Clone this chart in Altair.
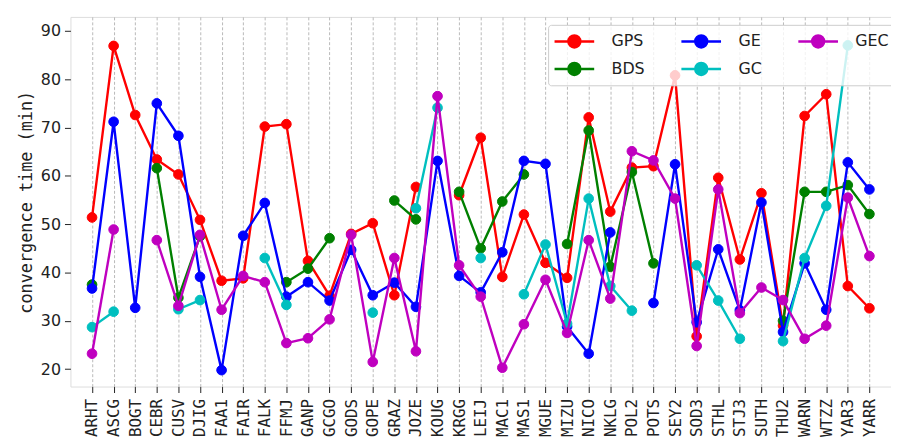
import altair as alt
import pandas as pd

stations = ["ARHT", "ASCG", "BOGT", "CEBR", "CUSV", "DJIG", "FAA1", "FAIR", "FALK",
            "FFMJ", "GANP", "GCGO", "GODS", "GOPE", "GRAZ", "JOZE", "KOUG", "KRGG",
            "LEIJ", "MAC1", "MAS1", "MGUE", "MIZU", "NICO", "NKLG", "POL2", "POTS",
            "SEY2", "SOD3", "STHL", "STJ3", "SUTH", "THU2", "WARN", "WTZZ", "YAR3", "YARR"]

gps = [51.4, 86.9, 72.6, 63.4, 60.3, 50.9, 38.3, 38.8, 70.2,
       70.7, 42.4, 35.2, 48.0, 50.2, 35.3, 57.7, None, 56.0,
       67.9, 39.1, 52.0, 42.0, 38.9, 72.1, 52.6, 61.7, 62.0,
       80.8, 26.8, 59.6, 42.7, 56.4, 29.0, 72.4, 76.9, 37.2, 32.6]

bds = [37.5, None, None, 61.6, 34.8, 47.5, None, None, None,
       38.0, 40.8, 47.1, None, None, 54.9, 51.0, None, 56.7,
       45.0, 54.7, 60.3, None, 45.9, 69.4, 41.2, 60.8, 41.9,
       None, None, None, None, None, 30.0, 56.7, 56.7, 58.1, 52.1]

ge = [36.7, 71.2, 32.7, 75.0, 68.3, 39.1, 19.8, 47.6, 54.4,
      35.0, 38.0, 34.2, 44.7, 35.3, 37.9, 32.9, 63.1, 39.3,
      35.9, 44.2, 63.1, 62.5, 28.8, 23.2, 48.3, None, 33.7,
      62.4, 29.7, 44.8, 32.2, 54.5, 27.7, 41.9, 32.3, 62.8, 57.2]

gc = [28.7, 31.9, None, None, 32.4, 34.3, None, None, 43.0,
      33.3, None, None, None, 31.7, None, 53.3, 74.1, None,
      43.0, None, 35.5, 45.8, 29.4, 55.3, 37.2, 32.1, None,
      None, 41.5, 34.2, 26.3, None, 25.8, 43.0, 53.8, 87.0, None]

gec = [23.2, 48.9, None, 46.7, 33.1, 47.8, 32.3, 39.3, 38.0,
       25.4, 26.4, 30.3, 47.8, 21.5, 43.0, 23.7, 76.5, 41.5,
       35.0, 20.3, 29.3, 38.5, 27.5, 46.7, 34.6, 65.1, 63.2,
       55.3, 24.8, 57.2, 31.6, 36.9, 34.3, 26.3, 29.0, 55.5, 43.4]

series_names = ["GPS", "BDS", "GE", "GC", "GEC"]
series_colors = ["#ff0000", "#008000", "#0000ff", "#00bfbf", "#bf00bf"]
series_values = {"GPS": gps, "BDS": bds, "GE": ge, "GC": gc, "GEC": gec}
series_color = dict(zip(series_names, series_colors))

rows = []
for name in series_names:
    seg = 0
    for st, v in zip(stations, series_values[name]):
        if v is None:
            seg += 1
            continue
        rows.append({"station": st, "value": v, "series": name, "seg": f"{name}-{seg}"})
df = pd.DataFrame(rows)

color_scale = alt.Scale(domain=series_names, range=series_colors)

x_enc = alt.X(
    "station:N", sort=stations,
    scale=alt.Scale(type="point", padding=1.8),
    axis=alt.Axis(title=None, labelAngle=270, labelFont="DejaVu Sans Mono", labelFontSize=16,
                  labelColor="#222222", tickSize=6, tickColor="#222222", labelPadding=6,
                  grid=True, gridDash=[3, 2], gridColor="#a8a8a8", gridWidth=0.8,
                  domain=False, labelBaseline="middle", labelAlign="right"),
)
y_enc = alt.Y(
    "value:Q",
    scale=alt.Scale(domain=[16.4, 92.9], nice=False, zero=False),
    axis=alt.Axis(title="convergence time (min)", values=[20, 30, 40, 50, 60, 70, 80, 90],
                  titleFont="DejaVu Sans Mono", titleFontSize=17, titleFontWeight="normal",
                  titleColor="#222222", titlePadding=5,
                  labelFont="DejaVu Sans", labelFontSize=16, labelColor="#222222",
                  tickSize=6, tickColor="#222222", labelPadding=4, grid=False, domain=False),
)

sym_path = "M-1,0L3,0M1.6,0A0.6,0.6,0,1,1,0.4,0A0.6,0.6,0,1,1,1.6,0Z"
legend = alt.Legend(
    title=None, orient="none", legendX=482, legendY=8, columns=3,
    symbolType=sym_path, symbolSize=400, symbolStrokeWidth=2.5, symbolOpacity=1,
    labelFont="DejaVu Sans", labelFontSize=16, labelColor="#222222", labelOffset=36,
    fillColor="rgba(255,255,255,0.8)", strokeColor="#cccccc", cornerRadius=3,
    padding=5, columnPadding=31, rowPadding=5,
)

base = alt.Chart(df)
layers = []
for name in series_names:
    sub = base.transform_filter(alt.datum.series == name)
    line = sub.mark_line(strokeWidth=2.4, color=series_color[name]).encode(
        x=x_enc, y=y_enc, detail="seg:N",
    )
    pts = sub.mark_point(filled=True, size=95, opacity=1, strokeWidth=1).encode(
        x=x_enc, y=y_enc,
        fill=alt.Fill("series:N", scale=color_scale, legend=legend),
        stroke=alt.Stroke("series:N", scale=color_scale, legend=legend),
    )
    layers += [line, pts]

chart = alt.layer(*layers).properties(
    width=828, height=373,
    padding={"left": 63, "top": 7, "right": 0, "bottom": 60},
    autosize=alt.AutoSizeParams(type="none"),
).configure_view(stroke="#333333", strokeWidth=1.3).configure(background="white")

chart.save("out.html", embed_options={"renderer": "svg", "actions": False})
